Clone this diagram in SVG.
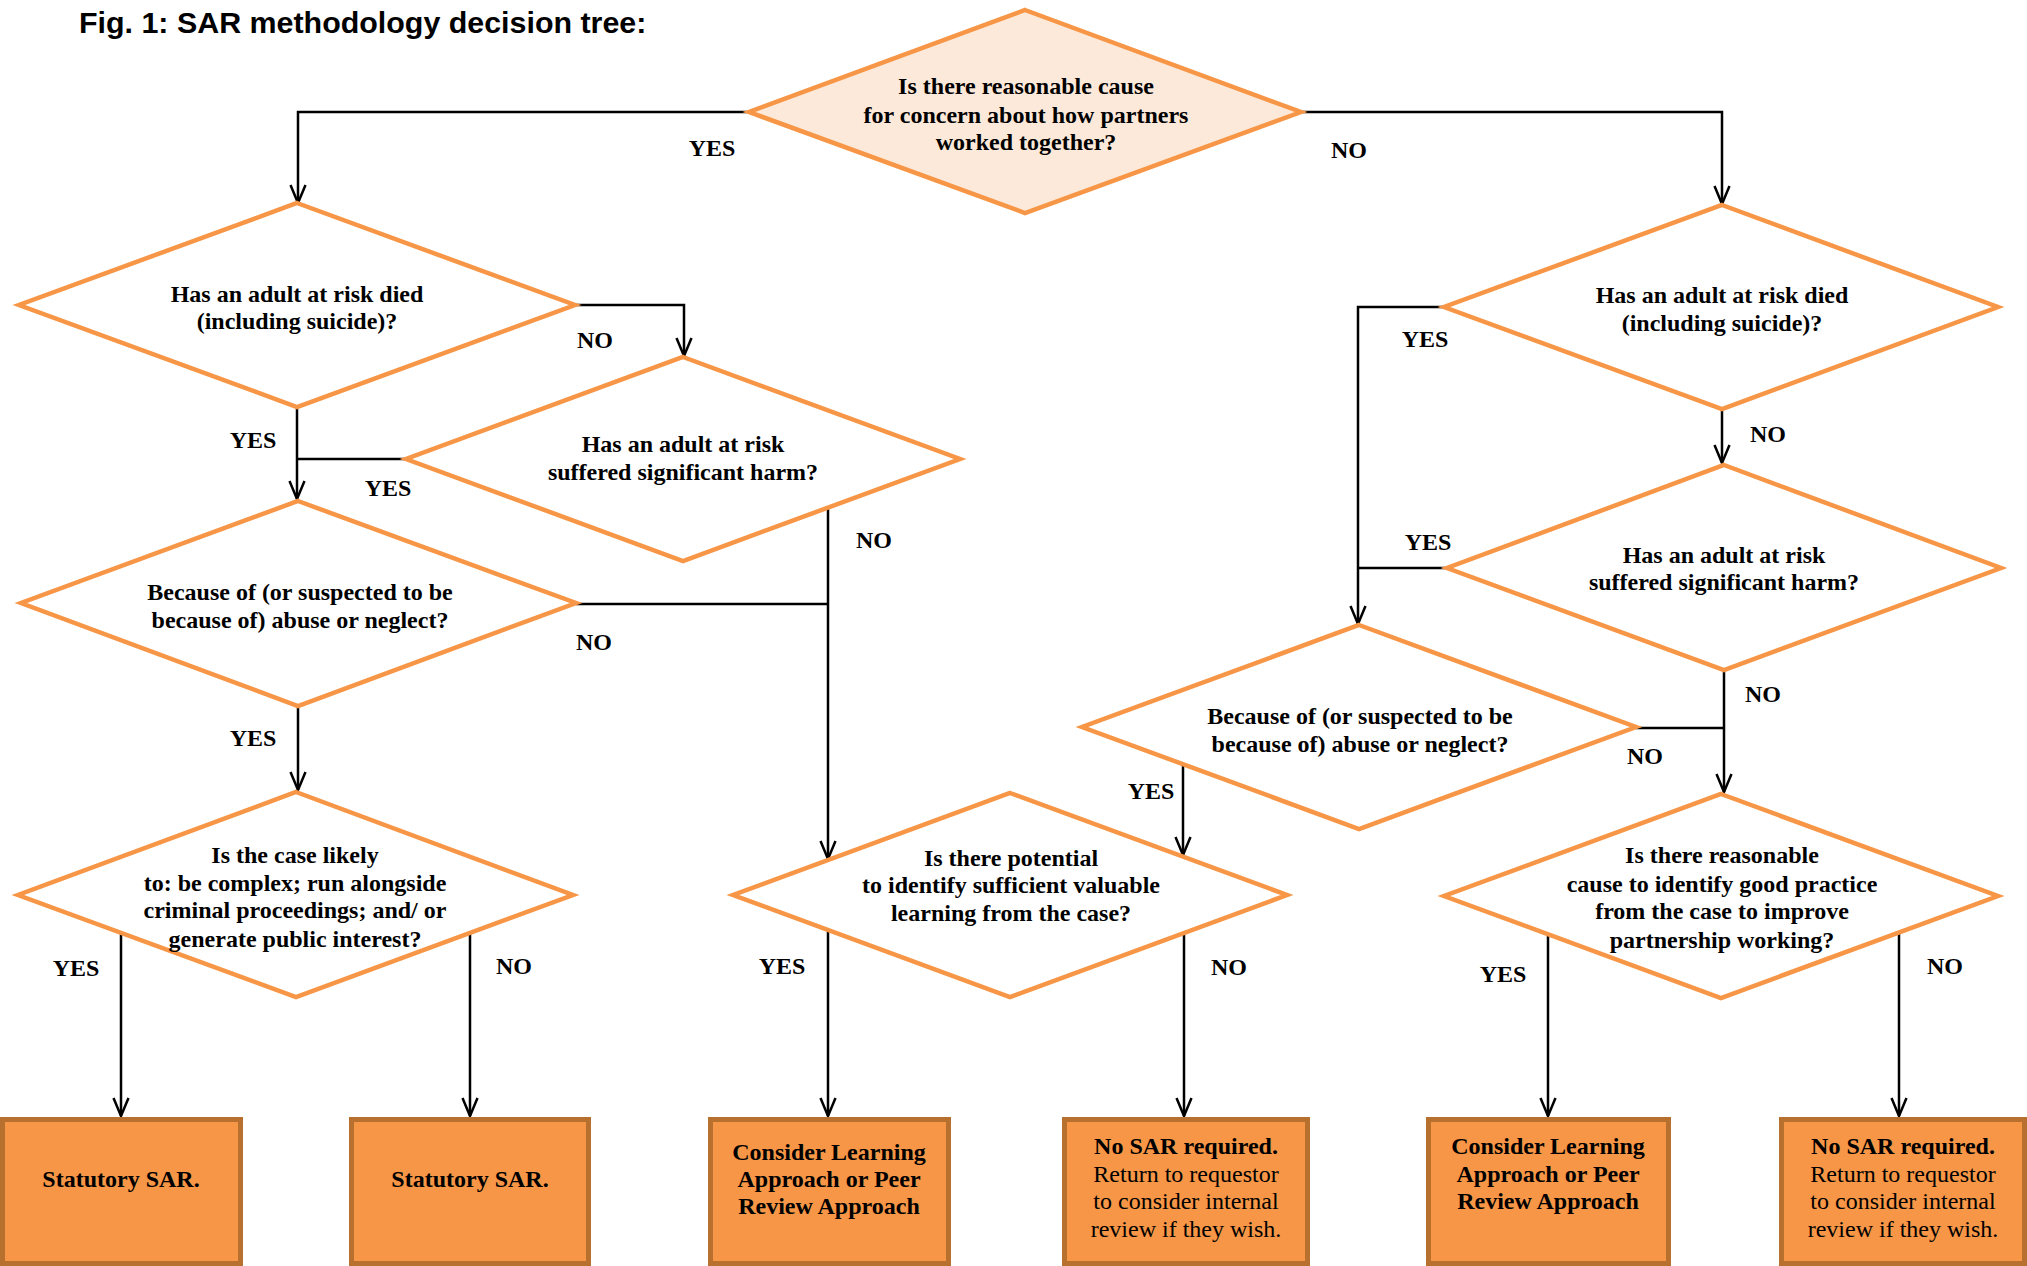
<svg xmlns="http://www.w3.org/2000/svg" width="2027" height="1266" viewBox="0 0 2027 1266">
<style>
.title{font-family:"Liberation Sans",Arial,sans-serif;font-weight:bold;font-size:30.4px;fill:#000}
.t{font-family:"Liberation Serif","Times New Roman",serif;font-weight:bold;font-size:24px;fill:#000;text-anchor:middle}
.r{font-weight:normal}
.lbl{font-family:"Liberation Serif","Times New Roman",serif;font-weight:bold;font-size:24px;fill:#000;text-anchor:middle}
.dia{fill:#fff;stroke:#F79646;stroke-width:4.5;stroke-linejoin:miter}
.dia0{fill:#FDE9D9;stroke:#F79646;stroke-width:4.5}
.box{fill:#F79646;stroke:#B8702F;stroke-width:5}
.c{fill:none;stroke:#000;stroke-width:2.5}
.a{marker-end:url(#arr)}
</style>
<defs>
<marker id="arr" markerWidth="22" markerHeight="20" refX="19" refY="10" orient="auto" markerUnits="userSpaceOnUse">
<path d="M1,2.5 L19,10 L1,17.5" fill="none" stroke="#000" stroke-width="2.5"/>
</marker>
</defs>
<rect width="2027" height="1266" fill="#fff"/>
<text class="title" x="79" y="33">Fig. 1: SAR methodology decision tree:</text>

<g id="connectors">
<polyline class="c a" points="747,112 298,112 298,203"/>
<polyline class="c a" points="1302,112 1722,112 1722,204"/>
<polyline class="c a" points="575,305 684,305 684,356"/>
<polyline class="c a" points="297,407 297,499"/>
<polyline class="c" points="405,459 297,459"/>
<polyline class="c a" points="828,508 828,859"/>
<polyline class="c" points="576,604 828,604"/>
<polyline class="c a" points="298,706 298,790"/>
<polyline class="c a" points="121,933 121,1116"/>
<polyline class="c a" points="470,933 470,1116"/>
<polyline class="c a" points="828,930 828,1116"/>
<polyline class="c a" points="1184,933 1184,1116"/>
<polyline class="c a" points="1444,307 1358,307 1358,624"/>
<polyline class="c a" points="1722,409 1722,463"/>
<polyline class="c" points="1447,568 1358,568"/>
<polyline class="c a" points="1724,670 1724,792"/>
<polyline class="c" points="1636,728 1724,728"/>
<polyline class="c a" points="1183,764 1183,855"/>
<polyline class="c a" points="1548,934 1548,1116"/>
<polyline class="c a" points="1899,932 1899,1116"/>
</g>

<g id="labels">
<text class="lbl" x="712" y="156">YES</text>
<text class="lbl" x="1349" y="158">NO</text>
<text class="lbl" x="595" y="348">NO</text>
<text class="lbl" x="253" y="448">YES</text>
<text class="lbl" x="388" y="496">YES</text>
<text class="lbl" x="874" y="548">NO</text>
<text class="lbl" x="594" y="650">NO</text>
<text class="lbl" x="253" y="746">YES</text>
<text class="lbl" x="76" y="976">YES</text>
<text class="lbl" x="514" y="974">NO</text>
<text class="lbl" x="782" y="974">YES</text>
<text class="lbl" x="1229" y="975">NO</text>
<text class="lbl" x="1425" y="347">YES</text>
<text class="lbl" x="1768" y="442">NO</text>
<text class="lbl" x="1428" y="550">YES</text>
<text class="lbl" x="1763" y="702">NO</text>
<text class="lbl" x="1645" y="764">NO</text>
<text class="lbl" x="1151" y="799">YES</text>
<text class="lbl" x="1503" y="982">YES</text>
<text class="lbl" x="1945" y="974">NO</text>
</g>

<g id="d1">
<polygon class="dia0" points="1025,10 1301,112 1025,213 749,112"/>
<text class="t" x="1026" y="94">Is there reasonable cause</text>
<text class="t" x="1026" y="123">for concern about how partners</text>
<text class="t" x="1026" y="150">worked together?</text>
</g>

<g id="d2">
<polygon class="dia" points="297,203 575,305 297,407 19,305"/>
<text class="t" x="297" y="302">Has an adult at risk died</text>
<text class="t" x="297" y="329">(including suicide)?</text>
</g>

<g id="d3">
<polygon class="dia" points="683,357 960,459 683,561 406,459"/>
<text class="t" x="683" y="452">Has an adult at risk</text>
<text class="t" x="683" y="480">suffered significant harm?</text>
</g>

<g id="d4">
<polygon class="dia" points="298,501 576,603 298,706 21,603"/>
<text class="t" x="300" y="600">Because of (or suspected to be</text>
<text class="t" x="300" y="628">because of) abuse or neglect?</text>
</g>

<g id="d5">
<polygon class="dia" points="296,792 573,895 296,997 18,895"/>
<text class="t" x="295" y="863">Is the case likely</text>
<text class="t" x="295" y="891">to: be complex; run alongside</text>
<text class="t" x="295" y="918">criminal proceedings; and/ or</text>
<text class="t" x="295" y="947">generate public interest?</text>
</g>

<g id="d6">
<polygon class="dia" points="1010,793 1287,895 1010,997 733,895"/>
<text class="t" x="1011" y="866">Is there potential</text>
<text class="t" x="1011" y="893">to identify sufficient valuable</text>
<text class="t" x="1011" y="921">learning from the case?</text>
</g>

<g id="d7">
<polygon class="dia" points="1722,205 1998,307 1722,409 1444,307"/>
<text class="t" x="1722" y="303">Has an adult at risk died</text>
<text class="t" x="1722" y="331">(including suicide)?</text>
</g>

<g id="d8">
<polygon class="dia" points="1724,465 2001,568 1724,670 1447,568"/>
<text class="t" x="1724" y="563">Has an adult at risk</text>
<text class="t" x="1724" y="590">suffered significant harm?</text>
</g>

<g id="d9">
<polygon class="dia" points="1359,625 1636,727 1359,829 1082,727"/>
<text class="t" x="1360" y="724">Because of (or suspected to be</text>
<text class="t" x="1360" y="752">because of) abuse or neglect?</text>
</g>

<g id="d10">
<polygon class="dia" points="1721,794 1998,896 1721,998 1444,896"/>
<text class="t" x="1722" y="863">Is there reasonable</text>
<text class="t" x="1722" y="892">cause to identify good practice</text>
<text class="t" x="1722" y="919">from the case to improve</text>
<text class="t" x="1722" y="948">partnership working?</text>
</g>

<g id="b1">
<rect class="box" x="2.5" y="1119.5" width="238" height="144"/>
<text class="t" x="121" y="1187">Statutory SAR.</text>
</g>
<g id="b2">
<rect class="box" x="351.5" y="1119.5" width="237" height="144"/>
<text class="t" x="470" y="1187">Statutory SAR.</text>
</g>
<g id="b3">
<rect class="box" x="710.5" y="1119.5" width="238" height="144"/>
<text class="t" x="829" y="1160">Consider Learning</text>
<text class="t" x="829" y="1187">Approach or Peer</text>
<text class="t" x="829" y="1214">Review Approach</text>
</g>
<g id="b4">
<rect class="box" x="1064.5" y="1119.5" width="243" height="144"/>
<text class="t" x="1186" y="1154">No SAR required.</text>
<text class="t r" x="1186" y="1182">Return to requestor</text>
<text class="t r" x="1186" y="1209">to consider internal</text>
<text class="t r" x="1186" y="1237">review if they wish.</text>
</g>
<g id="b5">
<rect class="box" x="1428.5" y="1119.5" width="240" height="144"/>
<text class="t" x="1548" y="1154">Consider Learning</text>
<text class="t" x="1548" y="1182">Approach or Peer</text>
<text class="t" x="1548" y="1209">Review Approach</text>
</g>
<g id="b6">
<rect class="box" x="1781.5" y="1119.5" width="243" height="144"/>
<text class="t" x="1903" y="1154">No SAR required.</text>
<text class="t r" x="1903" y="1182">Return to requestor</text>
<text class="t r" x="1903" y="1209">to consider internal</text>
<text class="t r" x="1903" y="1237">review if they wish.</text>
</g>
</svg>
